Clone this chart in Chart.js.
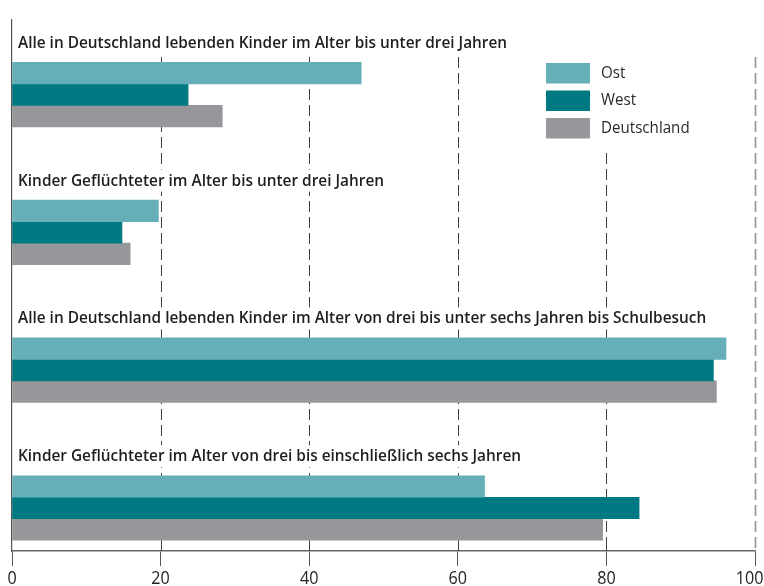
<!DOCTYPE html>
<html>
<head>
<meta charset="utf-8">
<script src="https://cdn.jsdelivr.net/npm/chart.js@4"></script>
<style>
html,body{margin:0;padding:0;background:#fff;}
#wrap{width:764px;height:586px;position:relative;}
</style>
</head>
<body>
<div id="wrap"><canvas id="c" width="764" height="586"></canvas></div>
<script>
const groups = [
  "Alle in Deutschland lebenden Kinder im Alter bis unter drei Jahren",
  "Kinder Geflüchteter im Alter bis unter drei Jahren",
  "Alle in Deutschland lebenden Kinder im Alter von drei bis unter sechs Jahren bis Schulbesuch",
  "Kinder Geflüchteter im Alter von drei bis einschließlich sechs Jahren"
];
const seriesNames = ["Ost", "West", "Deutschland"];
const ost = [47.0, 19.7, 96.1, 63.6];
const west = [23.7, 14.8, 94.4, 84.4];
const deutschland = [28.3, 15.9, 94.8, 79.5];
const xTicks = [0, 20, 40, 60, 80, 100];

const colors = ["#66afb8", "#007a82", "#96979b"];
const BAR = 21.5;
const FONT = "'Open Sans', 'Noto Sans', sans-serif";

function toPoints(arr){ return arr.map((v,i)=>({x:v, y:i})); }

const seriesData = [ost, west, deutschland];

function condText(ctx, txt, x, y, cond){
  ctx.save();
  ctx.translate(x, y);
  ctx.scale(cond, 1);
  ctx.fillText(txt, 0, 0);
  ctx.restore();
}

const decor = {
  id: 'decor',
  beforeDatasetsDraw(chart){
    const ctx = chart.ctx, xs = chart.scales.x, ys = chart.scales.y, a = chart.chartArea;
    ctx.save();
    // dashed gridlines
    xTicks.forEach(t => {
      if (t === 0) return;
      const px = Math.round(xs.getPixelForValue(t)) + 0.5;
      ctx.beginPath();
      ctx.setLineDash([11,5]);
      ctx.lineWidth = t === 100 ? 1.7 : 1;
      ctx.strokeStyle = t === 100 ? '#9a9a9a' : '#444';
      ctx.moveTo(px, 57);
      ctx.lineTo(px, t === 100 ? a.bottom : a.bottom - 12);
      ctx.stroke();
      if (t !== 100) {
        ctx.setLineDash([]);
        ctx.beginPath();
        ctx.moveTo(px, a.bottom - 12);
        ctx.lineTo(px, a.bottom);
        ctx.stroke();
      }
    });
    // group titles
    const COND = 0.905;
    ctx.font = "600 17px " + FONT;
    ctx.textBaseline = 'alphabetic';
    groups.forEach((g,i) => {
      const top = ys.getPixelForValue(i) - 1.5*BAR;
      const base = top - 14.5;
      const w = ctx.measureText(g).width * COND;
      ctx.fillStyle = '#fff';
      ctx.fillRect(a.left + 3, base - 16, w + 8, 22);
      ctx.fillStyle = '#1e1e1e';
      condText(ctx, g, a.left + 6, base, COND);
    });
    ctx.restore();
  },
  afterDatasetsDraw(chart){
    const ctx = chart.ctx, xs = chart.scales.x, a = chart.chartArea;
    ctx.save();
    // legend
    ctx.fillStyle = '#fff';
    ctx.fillRect(538, 54, 165, 94);
    chart.data.datasets.forEach((ds,i) => {
      const y = 63 + i*27.5;
      ctx.fillStyle = ds.backgroundColor;
      ctx.fillRect(546, y, 44, 20.5);
      ctx.font = "400 17px " + FONT;
      ctx.textBaseline = 'middle';
      ctx.fillStyle = '#2a2a2a';
      condText(ctx, ds.label, 601, y + 10, 0.89);
    });
    // x tick labels
    const TC = 0.85;
    ctx.font = "400 19px " + FONT;
    ctx.textBaseline = 'alphabetic';
    ctx.fillStyle = '#222';
    xTicks.forEach(t => {
      const lbl = String(t);
      const w = ctx.measureText(lbl).width * TC;
      let cx = xs.getPixelForValue(t);
      cx = Math.min(cx, chart.width - w/2 - 0.5);
      cx = Math.max(cx, w/2 + 0.5);
      condText(ctx, lbl, cx - w/2, 584, TC);
    });
    ctx.restore();
  }
};

new Chart(document.getElementById('c'), {
  type: 'bar',
  data: {
    datasets: seriesNames.map((n,i) => ({
      label: n,
      data: toPoints(seriesData[i]),
      backgroundColor: colors[i],
      borderWidth: 0,
      barThickness: BAR
    }))
  },
  options: {
    indexAxis: 'y',
    responsive: false,
    animation: false,
    layout: { padding: { top: 20, left: 12, right: 9, bottom: 0 } },
    plugins: { legend: { display: false }, tooltip: { enabled: false } },
    scales: {
      y: {
        type: 'linear',
        reverse: true,
        offset: false,
        min: -0.541,
        max: 3.312,
        ticks: { display: false },
        grid: { display: false, drawTicks: false, offset: false },
        border: { display: true, color: '#555', width: 1.2 },
        afterFit(s){ s.width = 0; }
      },
      x: {
        type: 'linear',
        min: 0,
        max: 100,
        afterBuildTicks(s){ s.ticks = xTicks.map(v => ({value: v})); },
        ticks: { display: false },
        grid: { drawOnChartArea: false, drawTicks: true, tickLength: 15, color: '#555', lineWidth: 1 },
        border: { display: true, color: '#666', width: 1.5 },
        afterFit(s){ s.height = 35; s.paddingLeft = 0; s.paddingRight = 0; }
      }
    }
  },
  plugins: [decor]
});
</script>
</body>
</html>
